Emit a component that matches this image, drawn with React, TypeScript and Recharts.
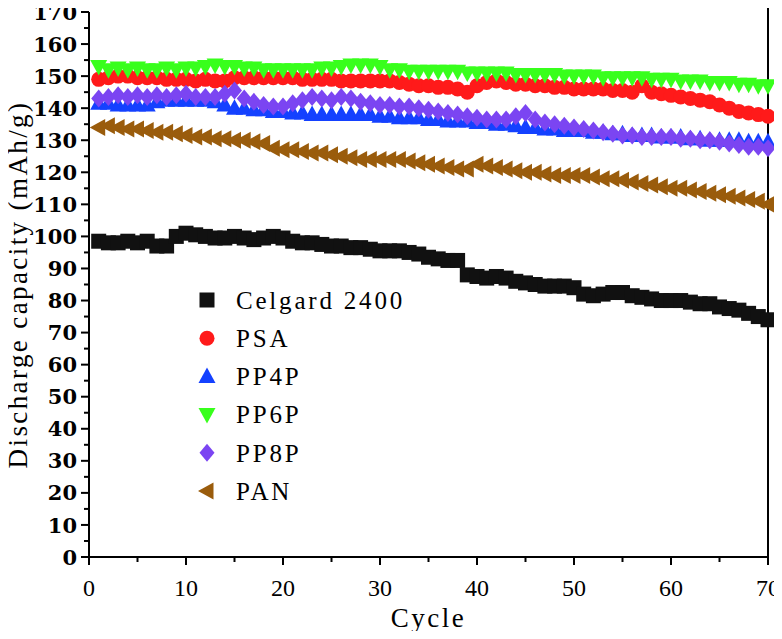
import { ScatterChart, Scatter, XAxis, YAxis, Legend, ReferenceLine } from 'recharts';

// cycle numbers 1..70
const cycles = Array.from({ length: 70 }, (_, i) => i + 1);

const celgard2400 = [
  98.5, 98, 98, 98.5, 98, 98.5, 97, 97, 100, 101,
  100.5, 100, 99.5, 99.5, 100, 99.5, 99, 99.5, 100, 99.5,
  98.5, 98, 98, 97.5, 97, 97, 96.5, 96.5, 96, 95.5,
  95.5, 95.5, 95, 94.5, 93.5, 93, 92.5, 92.5, 88, 87.5,
  87, 87.5, 87, 86, 85.5, 85, 84.5, 84.5, 84.5, 84,
  82, 81.5, 82, 82.5, 82.5, 81.5, 81, 80.5, 80, 80,
  80, 79.5, 79, 79, 78, 77.5, 77, 76, 75, 74,
];

const psa = [
  149, 149.5, 150, 150, 149.5, 149.5, 149.5, 149, 149, 149,
  148.5, 149, 148.5, 148.5, 149.5, 149.5, 149.5, 149.5, 149.5, 149.5,
  149.5, 149, 149, 149, 149, 148.5, 148.5, 148.5, 148.5, 148.5,
  148.5, 148, 147.5, 147, 147, 146.5, 146.5, 146, 145, 147,
  148, 148.5, 148, 147.5, 147.5, 147, 147, 146.5, 146.5, 146,
  146, 146, 146, 145.5, 145.5, 145, 147, 145, 144.5, 144,
  143.5, 143, 142.5, 142, 141, 140, 139, 138.5, 138, 137.5,
];

const pp4p = [
  141.5, 141.5, 141, 141, 141, 141, 142, 142.5, 142.5, 142.5,
  142.5, 142.5, 142, 141, 140, 140, 139.5, 139.5, 139, 139,
  138.5, 138.5, 138, 138, 138, 138, 138, 138, 138, 137.5,
  137.5, 137, 137, 137, 136.5, 136.5, 136, 136, 136, 135.5,
  135.5, 135, 135, 134.5, 134, 134, 133.5, 133.5, 133, 133,
  133, 132.5, 132.5, 132, 132, 131.5, 131.5, 131.5, 131, 131,
  131, 130.5, 130.5, 130, 130, 130, 130, 129.5, 129.5, 129.5,
];

const pp6p = [
  153, 152, 152.5, 152, 152.5, 152, 152, 152.5, 152, 152.5,
  152.5, 153, 153.5, 153, 153, 152.5, 152.5, 152, 152, 152,
  152, 152, 152, 152.5, 152.5, 153, 153.5, 153.5, 153.5, 153,
  152, 152, 151.5, 151.5, 151.5, 151.5, 151.5, 151.5, 151, 151,
  151, 151, 151, 150.5, 150.5, 150.5, 150.5, 150.5, 150, 150,
  150, 150, 149.5, 149.5, 149.5, 149.5, 149.5, 149, 149, 149,
  148.5, 148.5, 148.5, 148, 148, 148, 147.5, 147.5, 147, 147,
];

const pp8p = [
  143, 143.5, 144, 143.5, 144, 143.5, 144, 143.5, 144, 144.5,
  143.5, 143.5, 143.5, 144.5, 145.5, 143, 142, 141, 140.5, 140.5,
  141.5, 142.5, 143.5, 143, 142.5, 143.5, 143, 142, 141.5, 141,
  141, 140.5, 140.5, 140, 139.5, 139, 138.5, 138, 137.5, 137,
  136.5, 136.5, 136.5, 137.5, 138.5, 136.5, 135.5, 135, 134.5, 134,
  133.5, 133, 132.5, 132, 131.5, 131.5, 131, 131, 131, 131,
  130.5, 130.5, 130, 130, 129.5, 129, 128.5, 128, 128, 127.5,
];

const pan = [
  134, 134.5, 134, 133.5, 133.5, 133, 132.5, 132.5, 132, 131.5,
  131, 131, 130.5, 130.5, 130, 130, 129.5, 129, 127.5, 127,
  127, 126.5, 126, 126, 125.5, 125, 124.5, 124, 124, 124,
  124, 124, 123.5, 123, 122.5, 122, 121.5, 121, 121, 122.5,
  122, 121.5, 121, 120.5, 120, 120, 119.5, 119, 119, 119,
  119, 118.5, 118, 118, 117.5, 117, 116.5, 116, 115.5, 115,
  115, 114.5, 114, 113.5, 113, 112.5, 112, 111.5, 111, 110,
];

const xTicks = [0, 5, 10, 15, 20, 25, 30, 35, 40, 45, 50, 55, 60, 65, 70];
const yTicks = Array.from({ length: 35 }, (_, i) => i * 5);

const series = [
  { name: 'Celgard 2400', values: celgard2400, color: '#111111', kind: 'square' },
  { name: 'PSA', values: psa, color: '#ff1a1a', kind: 'circle' },
  { name: 'PP4P', values: pp4p, color: '#1441ff', kind: 'up' },
  { name: 'PP6P', values: pp6p, color: '#38ff1c', kind: 'down' },
  { name: 'PP8P', values: pp8p, color: '#7b45f2', kind: 'diamond' },
  { name: 'PAN', values: pan, color: '#9a5c0c', kind: 'left' },
];

const titleFont = { fontFamily: 'Liberation Serif', fill: '#000' };

const toPoints = (values: number[]) => cycles.map((c, i) => ({ x: c, y: values[i] }));

const Mark = ({ cx, cy, kind, color }: any) => {
  if (cx == null || cy == null) return null;
  switch (kind) {
    case 'square':
      return <rect x={cx - 7.5} y={cy - 7.5} width={15} height={15} fill={color} />;
    case 'circle':
      return <circle cx={cx} cy={cy} r={7.5} fill={color} />;
    case 'up':
      return <polygon points={`${cx},${cy - 9} ${cx - 8.5},${cy + 6.5} ${cx + 8.5},${cy + 6.5}`} fill={color} />;
    case 'down':
      return <polygon points={`${cx - 8.5},${cy - 6.5} ${cx + 8.5},${cy - 6.5} ${cx},${cy + 9}`} fill={color} />;
    case 'diamond':
      return <polygon points={`${cx},${cy - 9} ${cx + 7.5},${cy} ${cx},${cy + 9} ${cx - 7.5},${cy}`} fill={color} />;
    default:
      return <polygon points={`${cx - 9},${cy} ${cx + 6.5},${cy - 8.5} ${cx + 6.5},${cy + 8.5}`} fill={color} />;
  }
};

const XTick = ({ x, y, payload }: any) => {
  const major = payload.value % 10 === 0;
  return (
    <g>
      <line x1={x} x2={x} y1={y} y2={y + (major ? 8 : 5)} stroke="#000" strokeWidth={2} />
      {major && (
        <text x={x} y={y + 39} textAnchor="middle" fontFamily="Liberation Serif" fontSize={24} fill="#000">
          {payload.value}
        </text>
      )}
    </g>
  );
};

const YTick = ({ x, y, payload }: any) => {
  const major = payload.value % 10 === 0;
  return (
    <g>
      <line x1={x} x2={x - (major ? 8 : 5)} y1={y} y2={y} stroke="#000" strokeWidth={2} />
      {major && (
        <text x={x - 12} y={y} dy="0.36em" textAnchor="end" fontFamily="DejaVu Serif" fontWeight="bold" fontSize={21} fill="#000">
          {payload.value}
        </text>
      )}
    </g>
  );
};

const LegendBox = () => (
  <svg width={260} height={235}>
    {series.map((s, i) => {
      const cy = 17 + i * 38.2;
      return (
        <g key={s.name}>
          <Mark cx={14} cy={cy} kind={s.kind} color={s.color} />
          <text x={43} y={cy} dy="0.35em" fontSize={25} style={{ ...titleFont, letterSpacing: 2.8 }}>
            {s.name}
          </text>
        </g>
      );
    })}
  </svg>
);

export default function App() {
  return (
    <div style={{ width: 782, height: 639, margin: -8, background: '#fff' }}>
      <ScatterChart width={782} height={639} margin={{ top: 12, right: 14, bottom: 0, left: 0 }}>
        <XAxis
          type="number"
          dataKey="x"
          domain={[0, 70]}
          ticks={xTicks}
          interval={0}
          height={82}
          tickSize={0}
          tickMargin={0}
          tickLine={false}
          tick={<XTick />}
          axisLine={{ stroke: '#000', strokeWidth: 2 }}
          label={{
            value: 'Cycle',
            position: 'insideBottom',
            offset: 12,
            style: { ...titleFont, fontSize: 27, letterSpacing: 2.5 },
          }}
        />
        <YAxis
          type="number"
          dataKey="y"
          domain={[0, 170]}
          ticks={yTicks}
          interval={0}
          width={89}
          tickSize={0}
          tickMargin={0}
          tickLine={false}
          tick={<YTick />}
          axisLine={{ stroke: '#000', strokeWidth: 2 }}
          label={{
            value: 'Discharge capacity (mAh/g)',
            angle: -90,
            position: 'insideLeft',
            offset: 17,
            style: { ...titleFont, fontSize: 27, letterSpacing: 2.4, textAnchor: 'middle' },
          }}
        />
        <ReferenceLine
          segment={[{ x: 70, y: 0 }, { x: 70, y: 173.7 }]}
          ifOverflow="visible"
          stroke="#000"
          strokeWidth={2}
        />
        <Legend
          layout="vertical"
          align="center"
          verticalAlign="middle"
          content={<LegendBox />}
          wrapperStyle={{ left: 193, top: 283, width: 260 }}
        />
        {series.map((s) => (
          <Scatter
            key={s.name}
            name={s.name}
            data={toPoints(s.values)}
            fill={s.color}
            isAnimationActive={false}
            shape={(p: any) => <Mark cx={p.cx} cy={p.cy} kind={s.kind} color={s.color} />}
          />
        ))}
      </ScatterChart>
    </div>
  );
}
